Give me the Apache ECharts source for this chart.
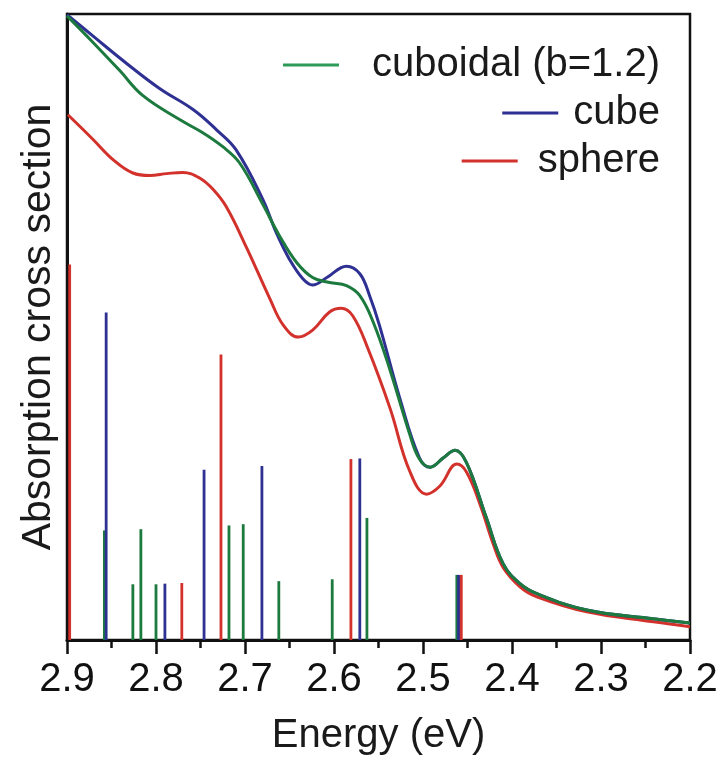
<!DOCTYPE html>
<html><head><meta charset="utf-8">
<script src="https://cdn.jsdelivr.net/npm/echarts@6/dist/echarts.min.js"></script>
<style>html,body{margin:0;padding:0;background:#fff}#c{width:723px;height:761px}</style>
</head><body><div id="c"></div>
<script>
// Energy (eV), relative absorption
const cuboidCurve = [[2.900,99.7],[2.871,95.5],[2.841,91.0],[2.815,87.0],[2.773,83.1],[2.747,81.0],[2.725,78.8],[2.706,76.2],[2.680,69.6],[2.661,64.5],[2.642,60.3],[2.624,57.9],[2.605,57.1],[2.586,56.6],[2.571,55.0],[2.556,50.8],[2.537,43.1],[2.515,32.9],[2.504,28.9],[2.492,27.6],[2.477,29.1],[2.464,30.3],[2.451,28.3],[2.429,19.6],[2.410,12.2],[2.391,9.0],[2.372,7.4],[2.316,4.8],[2.241,3.4],[2.200,2.7]];
const cubeCurve = [[2.900,99.9],[2.871,96.5],[2.833,92.1],[2.796,88.1],[2.758,84.7],[2.732,81.5],[2.710,78.3],[2.680,70.4],[2.665,65.1],[2.650,60.8],[2.635,57.7],[2.624,56.7],[2.608,57.9],[2.586,59.7],[2.571,58.5],[2.560,55.0],[2.549,50.3],[2.526,38.6],[2.504,29.1],[2.492,27.6],[2.477,29.1],[2.464,30.3],[2.451,28.3],[2.429,19.6],[2.410,12.2],[2.391,9.0],[2.372,7.4],[2.316,4.8],[2.241,3.4],[2.200,2.7]];
const sphereCurve = [[2.899,83.9],[2.871,80.0],[2.848,76.7],[2.826,74.6],[2.807,74.2],[2.788,74.5],[2.770,74.7],[2.751,73.8],[2.736,72.0],[2.721,69.2],[2.698,62.6],[2.672,54.5],[2.657,50.3],[2.640,48.4],[2.624,49.5],[2.605,52.4],[2.592,53.0],[2.579,51.8],[2.562,46.6],[2.537,37.0],[2.515,27.0],[2.496,23.3],[2.481,24.6],[2.462,28.1],[2.451,26.8],[2.436,21.7],[2.421,15.3],[2.410,11.6],[2.391,8.5],[2.372,6.9],[2.316,4.5],[2.241,2.9],[2.200,2.1]];
const cuboidSticks = [[2.858,17.5],[2.826,8.9],[2.817,17.7],[2.800,8.9],[2.718,18.3],[2.702,18.5],[2.662,9.4],[2.602,9.7],[2.563,19.5],[2.462,10.4]];
const cubeSticks = [[2.856,52.3],[2.790,9.0],[2.746,27.2],[2.681,27.8],[2.571,29.0],[2.460,10.4]];
const sphereSticks = [[2.897,60.0],[2.771,9.1],[2.727,45.6],[2.581,28.9],[2.457,10.4]];
const xTicks = {min:2.2, max:2.9, step:0.1};
const names = ['cuboidal (b=1.2)','cube','sphere'];

const GREEN='#1c7a3e', BLUE='#2e3192', RED='#d2322b';
const FONT='Liberation Sans';

function sticks(name, data, color){
  return {type:'custom', name:name, data:data, z:2, clip:true,
    renderItem:function(params, api){
      const p0 = api.coord([api.value(0),0]);
      const p1 = api.coord([api.value(0),api.value(1)]);
      return {type:'line', shape:{x1:p0[0],y1:p0[1],x2:p1[0],y2:p1[1]},
        style:{stroke:color, lineWidth:2.8}};
    }};
}
function curve(name, data, color){
  return {type:'line', name:name, data:data, smooth:0.4, showSymbol:false, symbol:'none', z:3,
    lineStyle:{color:color,width:3}, itemStyle:{color:color}};
}
function leg(name, top, color, gap){
  return {show:true, data:[name], right:63, top:top, padding:0, icon:'rect', itemWidth:56, itemHeight:3,
    textStyle:{fontFamily:FONT,fontSize:40,color:'#1a1a1a',padding:[0,0,0,gap]}, selectedMode:false,
    itemStyle:{color:color}};
}
const chart = echarts.init(document.getElementById('c'));
chart.setOption({
  animation:false,
  grid:{left:67,right:33,top:14,bottom:118,show:true,borderColor:'#111',borderWidth:2.5,backgroundColor:'transparent'},
  legend:[leg(names[0],45,'#2e9a58',28),leg(names[1],93,BLUE,10),leg(names[2],141,RED,15)],
  xAxis:{type:'value', inverse:true, min:xTicks.min, max:xTicks.max, interval:xTicks.step,
    name:'Energy (eV)', nameLocation:'middle', nameGap:76,
    nameTextStyle:{fontFamily:FONT,fontSize:40,color:'#1a1a1a'},
    axisLine:{show:true,lineStyle:{color:'#111',width:3}},
    axisTick:{show:true,inside:false,length:14,lineStyle:{color:'#111',width:2.5}},
    minorTick:{show:true,splitNumber:2,length:8,lineStyle:{color:'#111',width:2.5}},
    splitLine:{show:false},
    axisLabel:{fontFamily:FONT,fontSize:40,color:'#111',margin:20,formatter:function(v){return v.toFixed(1);}}},
  yAxis:{type:'value', min:0, max:100, name:'Absorption cross section', nameLocation:'middle', nameGap:8,
    nameTextStyle:{fontFamily:FONT,fontSize:41,color:'#1a1a1a'},
    axisLine:{show:true,lineStyle:{color:'#111',width:3}},
    axisTick:{show:false}, axisLabel:{show:false}, splitLine:{show:false}},
  series:[
    sticks('cuboidal sticks',cuboidSticks,GREEN),
    sticks('cube sticks',cubeSticks,BLUE),
    sticks('sphere sticks',sphereSticks,RED),
    curve(names[2],sphereCurve,RED),
    curve(names[1],cubeCurve,BLUE),
    curve(names[0],cuboidCurve,GREEN)
  ]
});
</script></body></html>
